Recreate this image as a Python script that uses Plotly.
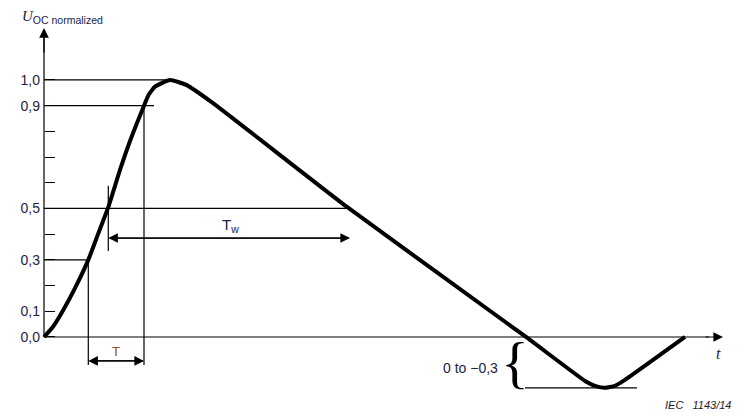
import plotly.graph_objects as go

# surge waveform (t in arbitrary units, u normalized)
t_vals = [0, 0.9, 1.93, 3.1, 4.43, 5.43, 6.43, 7.6, 8.77, 10.0, 10.43, 11.1, 12.6, 14.27,
          16.9, 30.3, 48.2, 54.1, 55.1, 56.1, 57.1, 58.1, 64.1]
u_vals = [0, 0.04, 0.105, 0.19, 0.30, 0.403, 0.505, 0.65, 0.78, 0.90, 0.94, 0.974, 1.0, 0.98,
          0.91, 0.506, 0.0, -0.171, -0.19, -0.198, -0.19, -0.167, 0.0]

tick_vals = [0.0, 0.1, 0.2, 0.3, 0.4, 0.5, 0.6, 0.7, 0.8, 0.9, 1.0]
tick_text = ["0,0", "0,1", "", "0,3", "", "0,5", "", "", "", "0,9", "1,0"]

# helper-line levels and times
t_peak = 12.6
t_03, t_05, t_09 = 4.43, 6.43, 10.0
t_tw_end = 30.6
u_min = -0.198

INK = "#1c2440"
# page has an 8px body margin, so the figure is 8px smaller and ranges start 8px in
FIG_W, FIG_H = 739, 412
X_RANGE = [-3.6, 70.3]
Y_RANGE = [-0.323, 1.280]

fig = go.Figure()
fig.add_trace(go.Scatter(x=t_vals, y=u_vals, mode="lines",
                         line=dict(color="black", width=4, shape="spline", smoothing=0.45),
                         hoverinfo="skip"))

thin = dict(color="black", width=1.2)
shapes = [
    dict(type="line", x0=0, x1=0, y0=0, y1=1.17, line=thin),
    dict(type="line", x0=0, x1=66.5, y0=0, y1=0, line=thin),
    dict(type="line", x0=0, x1=t_peak, y0=1.0, y1=1.0, line=thin),
    dict(type="line", x0=0, x1=11.0, y0=0.9, y1=0.9, line=thin),
    dict(type="line", x0=0, x1=t_tw_end, y0=0.5, y1=0.5, line=thin),
    dict(type="line", x0=0, x1=t_03, y0=0.3, y1=0.3, line=thin),
    dict(type="line", x0=t_03, x1=t_03, y0=0.3, y1=-0.109, line=thin),
    dict(type="line", x0=t_09, x1=t_09, y0=0.9, y1=-0.109, line=thin),
    dict(type="line", x0=t_05, x1=t_05, y0=0.588, y1=0.335, line=thin),
    dict(type="line", x0=48.1, x1=59.3, y0=u_min, y1=u_min, line=thin),
]


def arrow(x, y, ax, ay):
    return dict(x=x, y=y, ax=ax, ay=ay, xref="x", yref="y", axref="x", ayref="y",
                showarrow=True, arrowhead=2, arrowsize=1.6, arrowwidth=1.2,
                arrowcolor="black", text="")


annotations = [
    arrow(0, 1.202, 0, 1.1),
    arrow(67.9, 0, 66.0, 0),
    arrow(t_03, -0.093, t_09, -0.093),
    arrow(t_09, -0.093, t_03, -0.093),
    arrow(t_05, 0.385, t_tw_end, 0.385),
    arrow(t_tw_end, 0.385, t_05, 0.385),
    dict(x=7.2, y=-0.055, text="T", showarrow=False,
         font=dict(family="Liberation Sans", size=13, color="#9a4a1a")),
    dict(x=18.6, y=0.432, text="T<sub>w</sub>", showarrow=False,
         font=dict(family="Liberation Sans", size=15, color=INK)),
    dict(x=-2.4, y=1.245, showarrow=False, xanchor="left",
         text="<i>U</i><sub><span style='font-family:Liberation Sans'>OC normalized</span></sub>",
         font=dict(family="Liberation Serif", size=15, color=INK)),
    dict(x=67.4, y=-0.066, text="<i>t</i>", showarrow=False,
         font=dict(family="Liberation Serif", size=16, color=INK)),
    dict(x=45.6, y=-0.121, text="0 to \u22120,3", showarrow=False, xanchor="right",
         font=dict(family="Liberation Sans", size=14, color=INK)),
    dict(x=47.1, y=-0.1, text="{", showarrow=False,
         font=dict(family="Liberation Serif", size=58, color="black")),
    dict(x=68.9, y=-0.265, text="<i>IEC   1143/14</i>", showarrow=False, xanchor="right",
         font=dict(family="Liberation Sans", size=11, color="#222222")),
]

fig.update_layout(
    width=FIG_W, height=FIG_H,
    margin=dict(l=0, r=0, t=0, b=0),
    paper_bgcolor="white", plot_bgcolor="white",
    showlegend=False,
    shapes=shapes,
    annotations=annotations,
    xaxis=dict(range=X_RANGE, visible=False, fixedrange=True),
    yaxis=dict(range=Y_RANGE, tickvals=tick_vals, ticktext=tick_text,
               ticks="inside", ticklen=10, tickwidth=1.2, tickcolor="black",
               ticklabelstandoff=4,
               showgrid=False, zeroline=False, showline=False,
               anchor="free", position=36 / FIG_W,
               tickfont=dict(family="Liberation Sans", size=14, color=INK),
               fixedrange=True),
)

fig.write_html("out.html")
